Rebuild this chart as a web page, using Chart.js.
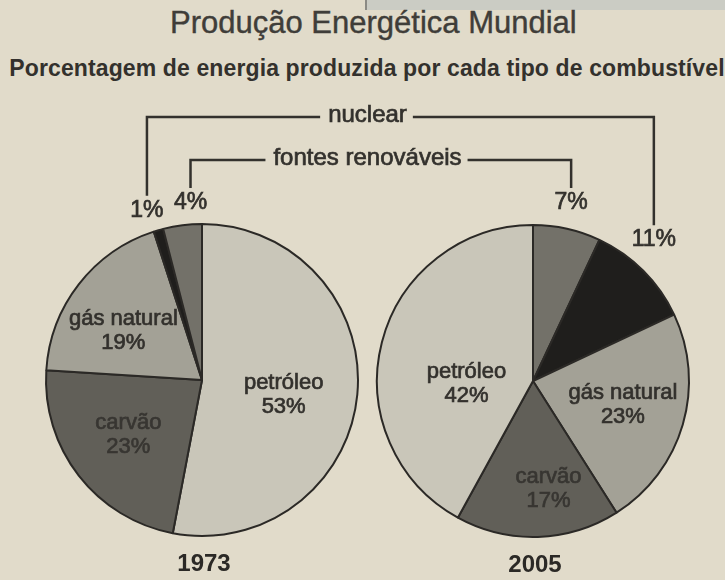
<!DOCTYPE html>
<html>
<head>
<meta charset="utf-8">
<script src="https://cdn.jsdelivr.net/npm/chart.js@4.4.0/dist/chart.umd.min.js"></script>
<style>
  body { margin: 0; background: #e1dbca; }
  #wrap { position: relative; width: 725px; height: 580px; overflow: hidden; background: #e1dbca;
          font-family: "Liberation Sans", Arial, sans-serif; color: #3a3834; }
  #band { position: absolute; left: 365px; top: 0; width: 360px; height: 10px; background: #cbccc4;
          border-left: 2px solid #8b8a84; }
  .txt { position: absolute; white-space: nowrap; text-align: center; }
  #title { left: 170px; top: 6px; width: 400px; font-size: 31px; line-height: 34px; color: #3f3d39;
           -webkit-text-stroke: 0.4px #3f3d39; }
  #subtitle { left: 0; top: 54px; width: 734px; font-size: 23px; line-height: 28px; font-weight: bold;
              letter-spacing: 0.12px; color: #33312d; }
  canvas { position: absolute; left: 0; top: 0; }
</style>
</head>
<body>
<div id="wrap">
  <div id="band"></div>
  <div id="title" class="txt">Produção Energética Mundial</div>
  <div id="subtitle" class="txt">Porcentagem de energia produzida por cada tipo de combustível</div>
  <canvas id="pie1973" width="725" height="580"></canvas>
  <canvas id="pie2005" width="725" height="580"></canvas>
</div>
<script>
// data (clockwise from 12 o'clock)
const years = ['1973', '2005'];
const fuels1973 = ['petróleo', 'carvão', 'gás natural', 'nuclear', 'fontes renováveis'];
const shares1973 = [53, 23, 19, 1, 4];
const fuels2005 = ['fontes renováveis', 'nuclear', 'gás natural', 'carvão', 'petróleo'];
const shares2005 = [7, 11, 23, 17, 42];

const fuelColours = {
  'petróleo': '#c9c6b9',
  'carvão': '#615f58',
  'gás natural': '#a3a196',
  'nuclear': '#1f1e1c',
  'fontes renováveis': '#737169'
};
const insideFuels = ['petróleo', 'carvão', 'gás natural'];

// where each label sits: fraction of radius along the slice middle, plus a nudge
const labelSpots = {
  '1973': {
    'petróleo': [0.5, 4, 8],
    'carvão': [0.5, -12, 7],
    'gás natural': [0.5, -17, -1],
    'nuclear': [1.15, -5, 3],
    'fontes renováveis': [1.15, 11, 1]
  },
  '2005': {
    'petróleo': [0.5, 9, 22],
    'carvão': [0.5, 13, 30],
    'gás natural': [0.5, 15, 2],
    'nuclear': [1.15, -6, -14],
    'fontes renováveis': [1.15, -1, -3]
  }
};
const brackets = [
  { fuel: 'nuclear', text: 'nuclear', y: 117 },
  { fuel: 'fontes renováveis', text: 'fontes renováveis', y: 160 }
];
const ink = '#33312d';

function spotOf(chart, i) {
  const arc = chart.getDatasetMeta(0).data[i];
  const name = chart.data.labels[i];
  const s = labelSpots[chart.options.year][name];
  const mid = (arc.startAngle + arc.endAngle) / 2;
  return {
    x: arc.x + Math.cos(mid) * arc.outerRadius * s[0] + s[1],
    y: arc.y + Math.sin(mid) * arc.outerRadius * s[0] + s[2],
    cx: arc.x
  };
}

// fill plus a thin stroke so the text looks as heavy as the printed one
function heavyText(ctx, text, x, y, colour) {
  ctx.fillStyle = colour;
  ctx.strokeStyle = colour;
  ctx.lineWidth = 0.7;
  ctx.fillText(text, x, y);
  ctx.strokeText(text, x, y);
}

const pieLabels = {
  id: 'pieLabels',
  afterDatasetsDraw(chart) {
    const ctx = chart.ctx;
    const values = chart.data.datasets[0].data;
    ctx.save();
    ctx.textAlign = 'center';
    ctx.textBaseline = 'middle';
    chart.data.labels.forEach((name, i) => {
      const p = spotOf(chart, i);
      if (insideFuels.includes(name)) {
        const c = name === 'carvão' ? '#383632' : ink;
        ctx.font = '22px "Liberation Sans", Arial, sans-serif';
        heavyText(ctx, name, p.x, p.y - 12, c);
        heavyText(ctx, values[i] + '%', p.x, p.y + 12, c);
      } else {
        ctx.font = '23px "Liberation Sans", Arial, sans-serif';
        heavyText(ctx, values[i] + '%', p.x, p.y, ink);
      }
    });
    // year under the pie
    const arc = chart.getDatasetMeta(0).data[0];
    ctx.font = 'bold 24px "Liberation Sans", Arial, sans-serif';
    ctx.fillStyle = '#2b2926';
    ctx.fillText(chart.options.year, arc.x + 2, arc.y + arc.outerRadius + 28);
    ctx.restore();
  }
};

// brackets joining the small slices of both pies
const bracketLines = {
  id: 'bracketLines',
  afterDraw(chart) {
    const ctx = chart.ctx;
    ctx.save();
    ctx.font = '24px "Liberation Sans", Arial, sans-serif';
    ctx.textAlign = 'center';
    ctx.textBaseline = 'middle';
    brackets.forEach(b => {
      const a = spotOf(chart1973, fuels1973.indexOf(b.fuel));
      const c = spotOf(chart, fuels2005.indexOf(b.fuel));
      const mx = (a.cx + c.cx) / 2;
      const half = ctx.measureText(b.text).width / 2;
      heavyText(ctx, b.text, mx, b.y - 2, ink);
      ctx.strokeStyle = ink;
      ctx.lineWidth = 2.5;
      ctx.beginPath();
      ctx.moveTo(a.x, a.y - 15);
      ctx.lineTo(a.x, b.y);
      ctx.lineTo(mx - half - 8, b.y);
      ctx.moveTo(mx + half + 6, b.y);
      ctx.lineTo(c.x, b.y);
      ctx.lineTo(c.x, c.y - 15);
      ctx.stroke();
    });
    ctx.restore();
  }
};

function pieConfig(year, fuels, shares, padding, extra) {
  return {
    type: 'pie',
    data: {
      labels: fuels,
      datasets: [{
        data: shares,
        backgroundColor: fuels.map(f => fuelColours[f]),
        borderColor: '#2b2926',
        borderWidth: 2,
        radius: 156
      }]
    },
    options: {
      year: year,
      responsive: false,
      animation: false,
      devicePixelRatio: 1,
      events: [],
      layout: { padding: padding },
      plugins: { legend: { display: false }, tooltip: { enabled: false } }
    },
    plugins: [pieLabels].concat(extra)
  };
}

const chart1973 = new Chart('pie1973',
  pieConfig(years[0], fuels1973, shares1973, { left: 32, right: 353, top: 210, bottom: 30 }, []));
const chart2005 = new Chart('pie2005',
  pieConfig(years[1], fuels2005, shares2005, { left: 363, right: 22, top: 211, bottom: 29 }, [bracketLines]));
</script>
</body>
</html>
